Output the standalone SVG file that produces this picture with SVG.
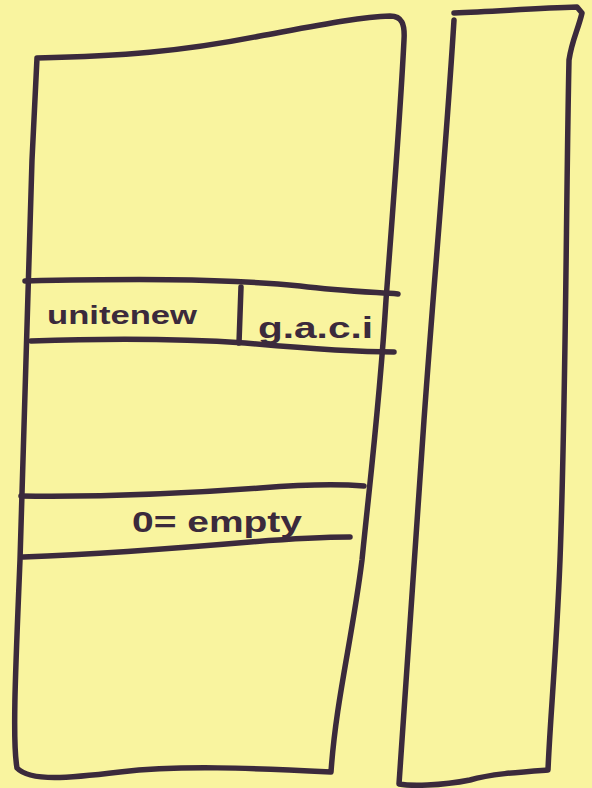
<svg xmlns="http://www.w3.org/2000/svg" width="592" height="788" viewBox="0 0 592 788">
<style>
.ink{fill:none;stroke:#3b2a3c;stroke-width:5.5;stroke-linecap:round;stroke-linejoin:round}
.txt{font-family:"Liberation Sans",Arial,sans-serif;font-weight:bold;fill:#3b2a3c}
</style>
<rect x="0" y="0" width="592" height="788" fill="#f9f49f"/>
<g id="memory-block">
<path class="ink" d="M37,58 C120,56 180,52 260,36 C320,25 360,17 390,16 C402,16 405,24 404,40 C400,120 392,220 386,300 C380,400 370,480 362,560 C352,640 336,700 331,772 C250,768 180,765 120,772 C70,778 30,782 17,768 C12,740 16,660 20,560 C23,440 27,300 32,160 L37,58"/>
</g>
<g id="band-uninit">
<path class="ink" d="M25,281 C120,279 220,278 300,286 C340,291 370,292 398,294"/>
<path class="ink" d="M31,341 C120,338 200,340 245,343 C300,348 350,352 394,352"/>
<path class="ink" d="M241,287 L239,343"/>
<text class="txt" x="47" y="324" font-size="26" textLength="150" lengthAdjust="spacingAndGlyphs">unitenew</text>
<text class="txt" x="258" y="338" font-size="30" textLength="115" lengthAdjust="spacingAndGlyphs">g.a.c.i</text>
</g>
<g id="band-empty">
<path class="ink" d="M21,496 C100,497 180,494 260,488 C310,484 340,484 364,486"/>
<path class="ink" d="M23,557 C100,554 180,548 250,542 C300,538 330,537 350,537"/>
<text class="txt" x="132" y="532" font-size="30" textLength="170" lengthAdjust="spacingAndGlyphs">0= empty</text>
</g>
<g id="side-block">
<path class="ink" d="M454,13 C500,11 540,8 577,7 L582,13 C578,30 572,40 569,60 C566,200 566,400 560,560 C556,660 550,720 548,770 C520,772 490,774 470,780 C440,786 410,786 399,784 C404,700 414,560 424,420 C434,280 446,150 454,20"/>
</g>
</svg>
